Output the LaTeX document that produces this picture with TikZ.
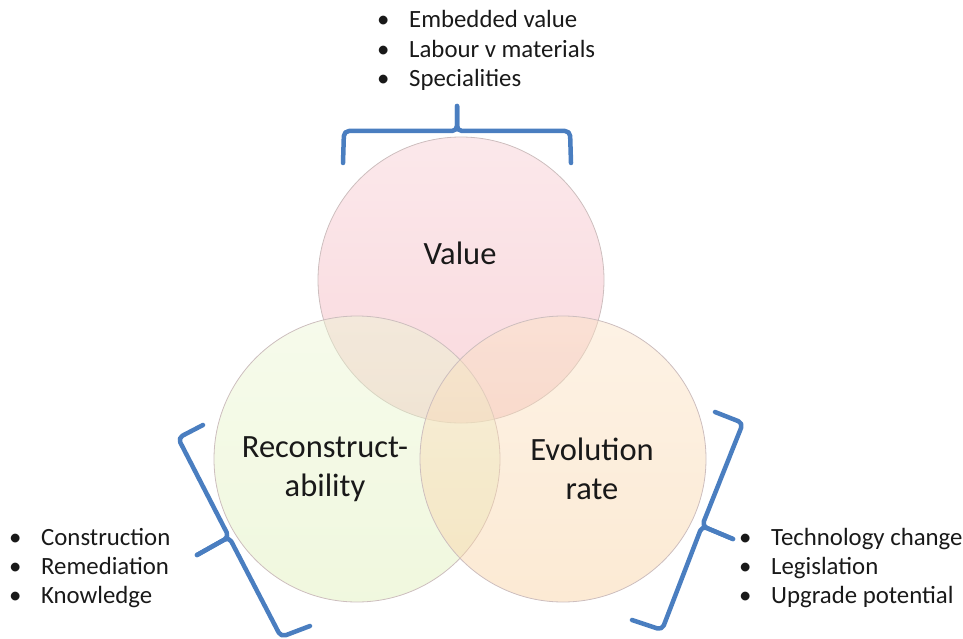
\documentclass[tikz,border=0pt]{standalone}
\usepackage{fontspec}
\setmainfont{Carlito}
\usetikzlibrary{positioning}

\definecolor{braceblue}{RGB}{74,126,192}
\definecolor{valuepink}{RGB}{242,170,180}
\definecolor{recongreen}{RGB}{222,239,182}
\definecolor{evolpeach}{RGB}{248,208,159}
\definecolor{setline}{RGB}{205,190,190}

\newcommand\bul{\makebox[32pt][l]{\textbullet}}

\tikzset{
  set/.style={circle, draw=setline, line width=0.8pt, minimum size=286pt,
    inner sep=0pt, fill opacity=0.45},
  setname/.style={font=\fontsize{32.5}{39}\selectfont, align=center, text=black!90},
  item/.style={font=\fontsize{24.8}{29.3}\selectfont, anchor=base west,
    inner sep=0pt, text=black!90},
  bracket/.style={draw=braceblue, line width=4.5pt, rounded corners=5pt,
    line cap=round, line join=round}
}

\begin{document}
\begin{tikzpicture}[x=1pt,y=-1pt]
  \useasboundingbox (0,0) rectangle (963,639);

  % the three circles
  \node[set, top color=valuepink!60, bottom color=valuepink] (value) at (461,280) {};
  \node[set, top color=recongreen!60, bottom color=recongreen] (recon) at (357,459) {};
  \node[set, top color=evolpeach!60, bottom color=evolpeach] (evol) at (563,459) {};

  \node[setname, anchor=base] (valuetxt) at (460,264) {Value};
  \node[setname] (recontxt) at (325,469) {Reconstruct-\\ability};
  \node[setname] (evoltxt) at (592,469) {Evolution\\rate};

  % brackets
  \draw[bracket] (343,163) -- (344,131) -- (457,131) -- (457,106);
  \draw[bracket] (571,163) -- (570,131) -- (457,131) -- (457,106);

  \draw[bracket] (203,425) -- (178,438) -- (229,537) -- (197,555);
  \draw[bracket] (310,626) -- (281,637) -- (229,537) -- (197,555);

  \draw[bracket] (715,412) -- (743,423) -- (702,526) -- (733,539);
  \draw[bracket] (632,620) -- (662,630) -- (702,526) -- (733,539);

  % lists
  \foreach \t [count=\i from 0] in {Embedded value, Labour v materials, Specialities}
    \node[item] (top\i) at (377,{28+29.3*\i}) {\bul\t};
  \foreach \t [count=\i from 0] in {Construction, Remediation, Knowledge}
    \node[item] (left\i) at (9,{545+29.3*\i}) {\bul\t};
  \foreach \t [count=\i from 0] in {Technology change, Legislation, Upgrade potential}
    \node[item] (right\i) at (739,{545+29.3*\i}) {\bul\t};
\end{tikzpicture}
\end{document}
